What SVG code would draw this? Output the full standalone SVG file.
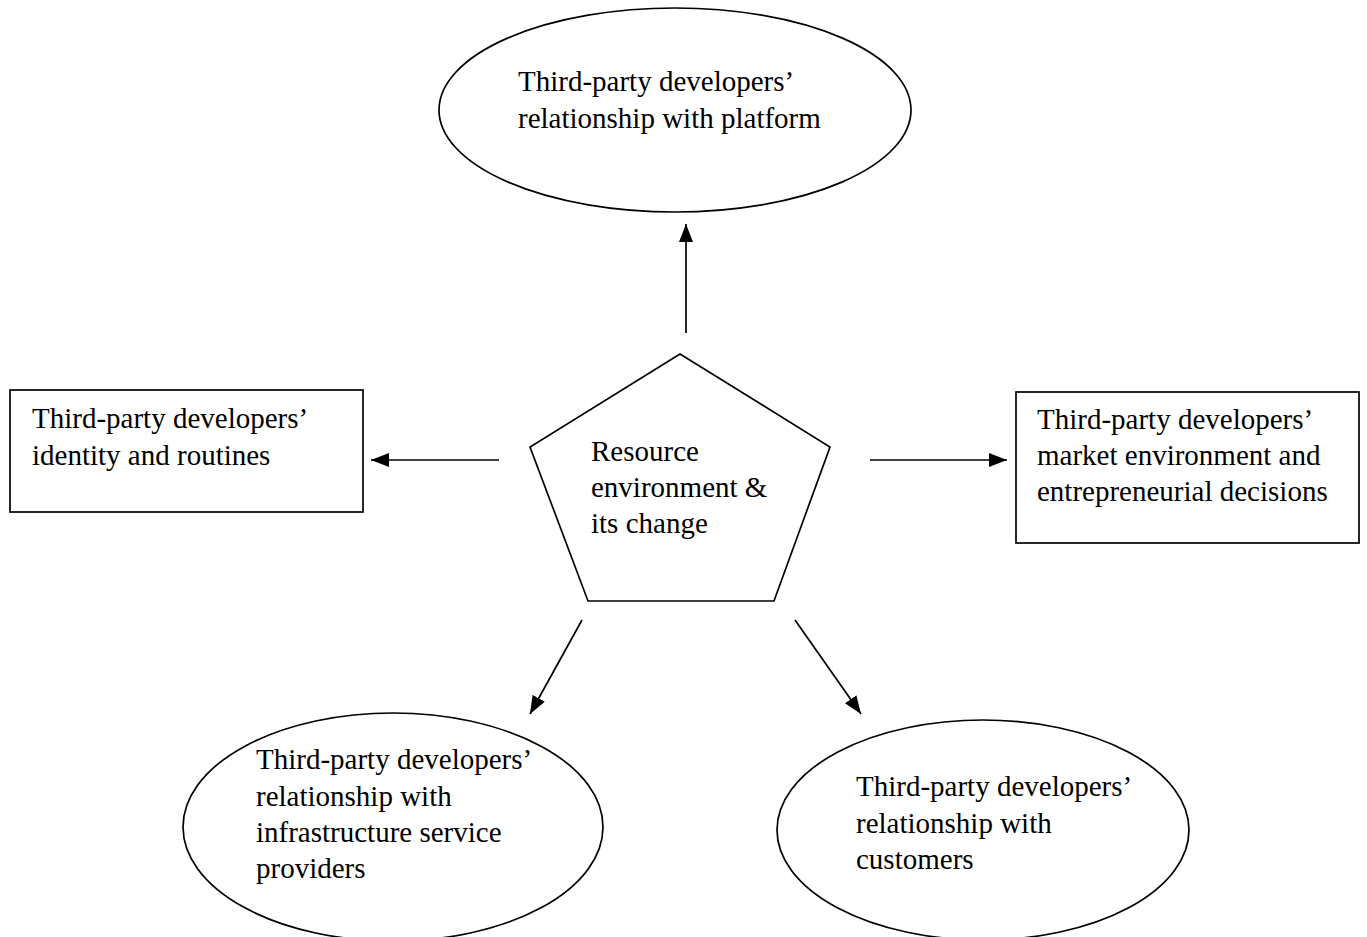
<svg xmlns="http://www.w3.org/2000/svg" width="1367" height="937" viewBox="0 0 1367 937">
  <style>
    .shape { fill: #ffffff; stroke: #000000; stroke-width: 1.7; }
    .label { font-family: "Liberation Serif", "Times New Roman", serif; font-size: 29px; fill: #000000; }
    .link { stroke: #000000; stroke-width: 1.7; fill: none; marker-end: url(#head); }
  </style>
  <defs>
    <marker id="head" viewBox="0 0 18 14" refX="18" refY="7" markerWidth="18" markerHeight="14" markerUnits="userSpaceOnUse" orient="auto">
      <path d="M0,0 L18,7 L0,14 Z" fill="#000000"/>
    </marker>
  </defs>
  <rect width="1367" height="937" fill="#ffffff"/>

  <!-- connectors from the central pentagon -->
  <g id="connectors">
    <line class="link" x1="686" y1="333" x2="686" y2="224"/>
    <line class="link" x1="499" y1="460" x2="371" y2="460"/>
    <line class="link" x1="870" y1="460" x2="1007" y2="460"/>
    <line class="link" x1="582" y1="620" x2="530" y2="714"/>
    <line class="link" x1="795" y1="620" x2="861" y2="714"/>
  </g>

  <g id="node-platform">
    <ellipse class="shape" cx="675" cy="110" rx="236" ry="102"/>
    <text class="label" x="518" y="91">Third-party developers’</text>
    <text class="label" x="518" y="128">relationship with platform</text>
  </g>

  <g id="node-resource">
    <polygon class="shape" points="680,354 830,447 774,601 588,601 530,447"/>
    <text class="label" x="591" y="461">Resource</text>
    <text class="label" x="591" y="497">environment &amp;</text>
    <text class="label" x="591" y="533">its change</text>
  </g>

  <g id="node-identity">
    <rect class="shape" x="10" y="390" width="353" height="122"/>
    <text class="label" x="32" y="428">Third-party developers’</text>
    <text class="label" x="32" y="465">identity and routines</text>
  </g>

  <g id="node-market">
    <rect class="shape" x="1016" y="392" width="343" height="151"/>
    <text class="label" x="1037" y="429">Third-party developers’</text>
    <text class="label" x="1037" y="465">market environment and</text>
    <text class="label" x="1037" y="501">entrepreneurial decisions</text>
  </g>

  <g id="node-infrastructure">
    <ellipse class="shape" cx="393" cy="827" rx="210" ry="114"/>
    <text class="label" x="256" y="769">Third-party developers’</text>
    <text class="label" x="256" y="806">relationship with</text>
    <text class="label" x="256" y="842">infrastructure service</text>
    <text class="label" x="256" y="878">providers</text>
  </g>

  <g id="node-customers">
    <ellipse class="shape" cx="983" cy="830" rx="206" ry="110"/>
    <text class="label" x="856" y="796">Third-party developers’</text>
    <text class="label" x="856" y="833">relationship with</text>
    <text class="label" x="856" y="869">customers</text>
  </g>
</svg>
